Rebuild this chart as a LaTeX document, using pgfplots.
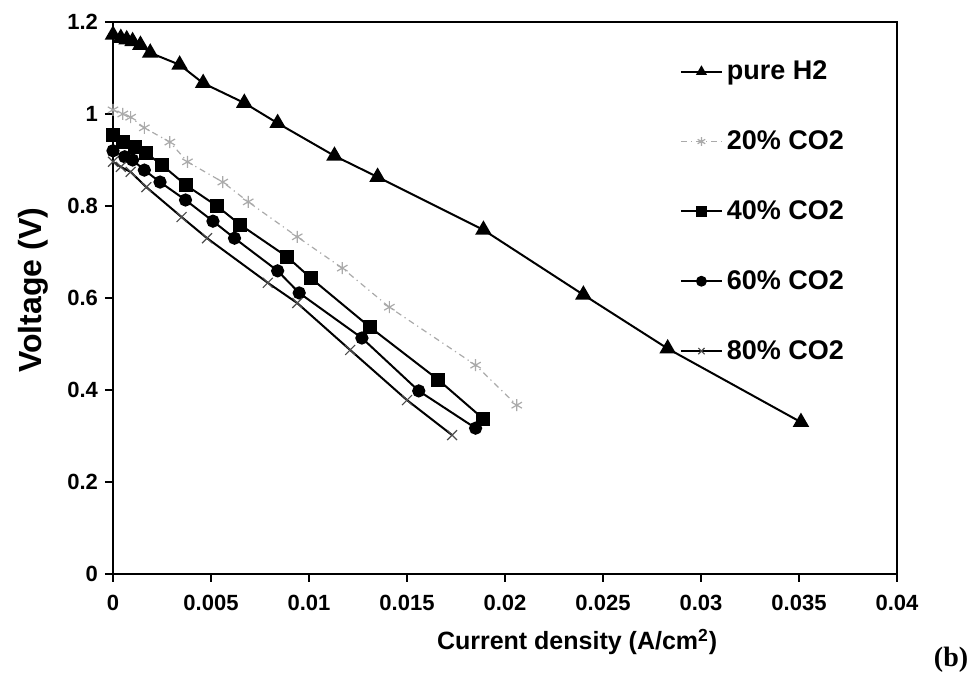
\documentclass[border=0pt]{standalone}
\usepackage{fontspec}
\setmainfont{Liberation Sans}
\newfontfamily\timesb{Liberation Serif}
\usepackage{pgfplots}
\pgfplotsset{compat=1.18}
\definecolor{lgray}{RGB}{170,170,170}
\begin{document}
\begin{tikzpicture}
\useasboundingbox (-56.5pt,-50pt) rectangle (429pt,287pt);
\begin{axis}[
  at={(0,0)}, anchor=south west, scale only axis,
  width=392pt, height=276pt,
  xmin=0, xmax=0.04, ymin=0, ymax=1.2,
  xtick={0,0.005,0.01,0.015,0.02,0.025,0.03,0.035,0.04},
  ytick={0,0.2,0.4,0.6,0.8,1,1.2},
  scaled x ticks=false,
  xticklabel style={/pgf/number format/fixed, /pgf/number format/precision=3, yshift=-3pt},
  yticklabel style={/pgf/number format/fixed, /pgf/number format/precision=1},
  /pgf/number format/assume math mode=true,
  ticklabel style={font=\bfseries\fontsize{11}{13}\selectfont},
  tick align=outside, tick pos=left, major tick length=4pt,
  axis line style={line width=1pt},
  every tick/.style={line width=1pt, black},
  xlabel={Current density (A/cm\textsuperscript{2})},
  xlabel style={font=\bfseries\fontsize{12.5}{14}\selectfont, at={(axis description cs:0.592,0)}, anchor=north, yshift=-24pt},
  ylabel={Voltage (V)},
  ylabel style={font=\bfseries\fontsize{16}{18}\selectfont, at={(axis description cs:0,0.514)}, anchor=south, yshift=29pt},
  legend style={at={(0.715,0.945)}, anchor=north west, draw=none, fill=none,
    font=\bfseries\fontsize{13.5}{15}\selectfont, row sep=20pt},
  legend image code/.code={\draw[mark repeat=2,mark phase=2,#1] plot coordinates {(0cm,0cm)(0.36cm,0cm)(0.72cm,0cm)};},
  legend image post style={mark size=2.2pt},
  legend cell align=left,
  clip=false,
]
% pure H2
\addplot[black, line width=1pt, mark=triangle*, mark size=3.8pt] coordinates {
(0,1.172) (0.0004,1.165) (0.0007,1.162) (0.0010,1.158) (0.0014,1.150) (0.0019,1.133) (0.0034,1.107) (0.0046,1.067) (0.0067,1.024) (0.0084,0.980) (0.0113,0.909) (0.0135,0.863) (0.0189,0.748) (0.0240,0.607) (0.0283,0.490) (0.0351,0.330)
};
\addlegendentry{pure H2}
% 20% CO2
\addplot[lgray, line width=0.6pt, dash dot, mark=asterisk, mark size=3pt, mark options={solid}] coordinates {
(0,1.009) (0.0005,1.000) (0.0009,0.993) (0.0016,0.970) (0.0029,0.939) (0.0038,0.896) (0.0056,0.852) (0.0069,0.809) (0.0094,0.733) (0.0117,0.665) (0.0141,0.580) (0.0185,0.454) (0.0206,0.367)
};
\addlegendentry{20\% CO2}
% 40% CO2
\addplot[black, line width=1pt, mark=square*, mark size=3pt] coordinates {
(0,0.954) (0.0005,0.939) (0.0011,0.928) (0.0017,0.915) (0.0025,0.889) (0.0037,0.846) (0.0053,0.800) (0.0065,0.759) (0.0089,0.689) (0.0101,0.643) (0.0131,0.537) (0.0166,0.422) (0.0189,0.337)
};
\addlegendentry{40\% CO2}
% 60% CO2
\addplot[black, line width=1pt, mark=*, mark size=2.8pt] coordinates {
(0,0.920) (0.0006,0.907) (0.0010,0.900) (0.0016,0.878) (0.0024,0.852) (0.0037,0.813) (0.0051,0.767) (0.0062,0.730) (0.0084,0.659) (0.0095,0.611) (0.0127,0.513) (0.0156,0.398) (0.0185,0.317)
};
\addlegendentry{60\% CO2}
% 80% CO2
\addplot[black, line width=1pt, mark=x, mark size=3.5pt, mark options={line width=0.6pt, black!70}] coordinates {
(0,0.896) (0.0004,0.885) (0.0009,0.874) (0.0017,0.841) (0.0035,0.776) (0.0048,0.730) (0.0079,0.633) (0.0094,0.589) (0.0121,0.487) (0.0150,0.378) (0.0173,0.302)
};
\addlegendentry{80\% CO2}
\node[font=\timesb\bfseries\fontsize{14}{16}\selectfont] at (axis description cs:1.069,-0.156) {(b)};
\end{axis}
\end{tikzpicture}
\end{document}
